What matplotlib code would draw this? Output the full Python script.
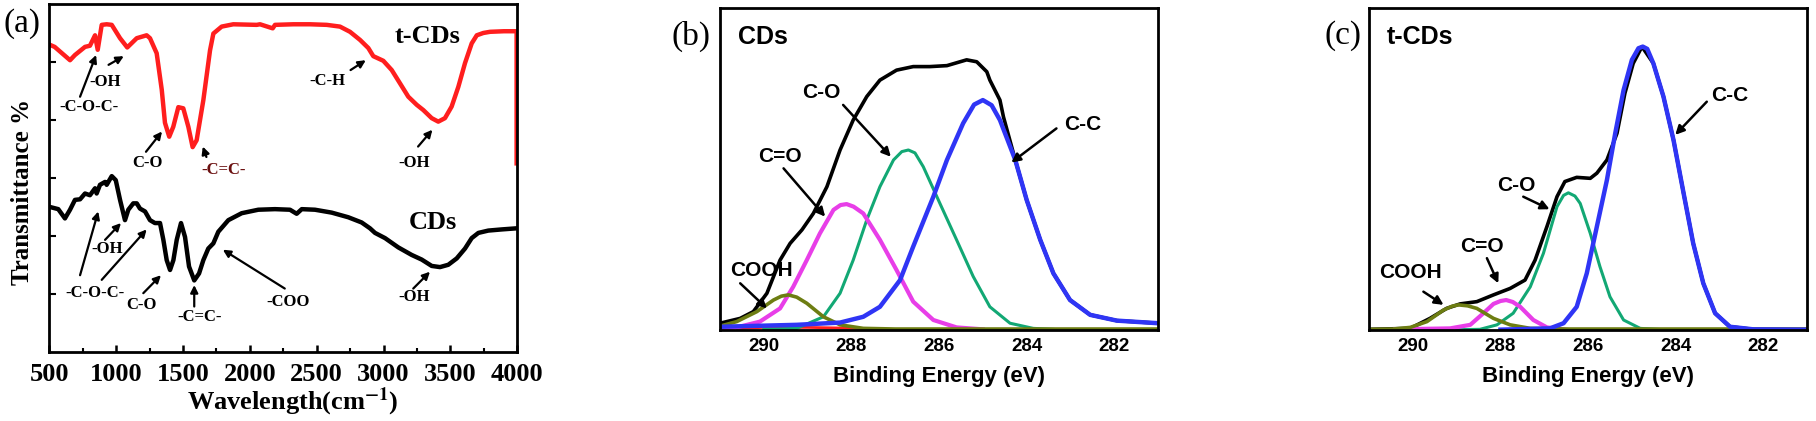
import matplotlib
matplotlib.use('Agg')
import matplotlib.pyplot as plt
from matplotlib.ticker import MultipleLocator

plt.rcParams['mathtext.fontset'] = 'stix'

SERIF = 'Liberation Serif'
SANS = 'Liberation Sans'

# ---- (a) FTIR spectra ----
wn_t = [500, 540, 655, 692, 767, 804, 842, 862, 892, 929, 967, 1029, 1083, 1154, 1228, 1253,
        1303, 1341, 1365, 1397, 1427, 1465, 1502, 1540, 1572, 1602, 1652, 1702, 1727, 1789,
        1876, 2051, 2076, 2171, 2188, 2325, 2450, 2575, 2674, 2749, 2824, 2886, 2923, 2998,
        3061, 3123, 3185, 3248, 3297, 3360, 3409, 3459, 3509, 3559, 3609, 3659, 3697, 3746,
        3796, 3900, 3995, 3995]
tr_t = [5.30, 5.26, 5.03, 5.12, 5.26, 5.28, 5.46, 5.21, 5.64, 5.65, 5.64, 5.41, 5.25, 5.41, 5.46, 5.41,
        5.15, 4.52, 3.95, 3.71, 3.88, 4.22, 4.20, 3.88, 3.53, 3.65, 4.34, 5.20, 5.49, 5.61,
        5.65, 5.64, 5.65, 5.58, 5.64, 5.65, 5.65, 5.64, 5.61, 5.52, 5.38, 5.24, 5.10, 5.02,
        4.86, 4.63, 4.40, 4.26, 4.17, 4.03, 3.97, 4.03, 4.23, 4.57, 4.98, 5.32, 5.46, 5.50,
        5.52, 5.53, 5.53, 3.25]

wn_c = [500, 567, 617, 655, 692, 730, 767, 804, 842, 854, 879, 917, 929, 967, 997, 1029, 1066,
        1091, 1128, 1154, 1178, 1216, 1253, 1290, 1328, 1353, 1378, 1403, 1428, 1453, 1485,
        1515, 1545, 1584, 1620, 1652, 1689, 1727, 1764, 1839, 1939, 2063, 2188, 2300, 2350,
        2388, 2487, 2612, 2736, 2836, 2898, 2936, 3011, 3110, 3210, 3285, 3360, 3422, 3484,
        3547, 3609, 3659, 3709, 3783, 3883, 4000]
tr_c = [2.50, 2.46, 2.30, 2.45, 2.62, 2.63, 2.73, 2.70, 2.82, 2.73, 2.88, 2.93, 2.88, 3.03, 2.96, 2.62, 2.27,
        2.45, 2.56, 2.56, 2.47, 2.42, 2.27, 2.22, 2.22, 1.93, 1.58, 1.41, 1.58, 1.93, 2.22,
        1.98, 1.47, 1.23, 1.35, 1.58, 1.78, 1.87, 2.07, 2.27, 2.39, 2.45, 2.46, 2.45, 2.38,
        2.46, 2.45, 2.40, 2.32, 2.23, 2.13, 2.05, 1.96, 1.80, 1.67, 1.59, 1.48, 1.46, 1.50,
        1.61, 1.78, 1.96, 2.05, 2.09, 2.11, 2.13]

# (label, text pos, [(tail, head), ...], colour)
notes_a = [
    ('-C-O-C-', (797, 4.22), [((730, 4.40), (850, 5.12))], 'k'),
    ('-OH', (917, 4.66), [((943, 4.95), (1057, 5.10))], 'k'),
    ('C-O', (1236, 3.26), [((1223, 3.45), (1343, 3.80))], 'k'),
    ('-C=C-', (1807, 3.14), [((1675, 3.36), (1648, 3.54))], '#6b1010'),
    ('-C-H', (2580, 4.67), [((2753, 4.86), (2867, 5.03))], 'k'),
    ('-OH', (3232, 3.25), [((3258, 3.54), (3365, 3.83))], 'k'),
    ('-C-O-C-', (845, 1.02), [((730, 1.32), (866, 2.42)), ((892, 1.24), (1228, 2.11))], 'k'),
    ('-OH', (929, 1.77), [((917, 1.93), (1036, 2.22))], 'k'),
    ('C-O', (1191, 0.81), [((1203, 1.01), (1335, 1.32))], 'k'),
    ('-C=C-', (1627, 0.60), [((1584, 0.78), (1584, 1.15))], 'k'),
    ('-COO', (2288, 0.86), [((2261, 1.09), (1798, 1.76))], 'k'),
    ('-OH', (3230, 0.95), [((3222, 1.09), (3347, 1.38))], 'k'),
]

# ---- (b) XPS C1s, CDs ----
be_b_env = [291.0, 290.54, 290.24, 289.93, 289.63, 289.40, 289.13, 288.87, 288.56, 288.26, 287.96,
            287.65, 287.35, 286.97, 286.59, 286.21, 285.82, 285.37, 285.14, 284.91, 284.84, 284.61,
            284.53, 284.26, 284.0, 283.69, 283.39, 283.01, 282.55, 281.94, 281.0]
int_b_env = [2.1, 3.6, 5.7, 11.4, 21.7, 26.9, 31.1, 36.2, 44.5, 55.9, 65.2,
             72.5, 77.6, 80.7, 81.8, 81.8, 82.1, 83.9, 83.3, 80.2, 77.6, 71.4,
             66.2, 52.8, 40.4, 28.0, 17.6, 9.3, 4.7, 2.9, 2.1]
be_b_cc = [291.0, 289.25, 288.26, 287.73, 287.35, 286.89, 286.59, 286.13, 285.82, 285.45, 285.2,
           285.0, 284.8, 284.61, 284.26, 284.0, 283.69, 283.39, 283.01, 282.55, 281.94, 281.0]
int_b_cc = [1.0, 1.6, 2.3, 4.1, 7.2, 15.5, 25.9, 41.4, 52.8, 64.2, 70.0,
            71.4, 69.8, 65.2, 52.8, 40.4, 28.0, 17.6, 9.3, 4.7, 2.9, 2.1]
be_b_co = [290.0, 289.25, 288.64, 288.26, 287.96, 287.65, 287.35, 287.04, 286.85, 286.70, 286.55,
           286.36, 285.98, 285.60, 285.22, 284.84, 284.38, 283.85, 283.4]
int_b_co = [0.2, 0.5, 4.1, 11.4, 21.7, 34.2, 44.5, 52.8, 55.4, 55.9, 55.0,
            50.7, 39.3, 28.0, 16.6, 7.2, 2.1, 0.5, 0.2]
be_b_cdo = [291.0, 290.62, 290.09, 289.63, 289.33, 289.02, 288.72, 288.41, 288.25, 288.11, 287.95,
            287.73, 287.35, 286.97, 286.59, 286.13, 285.60, 285.0]
int_b_cdo = [0.4, 0.8, 2.6, 6.7, 13.4, 21.7, 30.0, 37.3, 38.8, 39.1, 38.3,
             36.2, 28.0, 18.6, 8.8, 3.1, 0.8, 0.2]
be_b_cooh = [291.0, 290.62, 290.16, 289.78, 289.60, 289.44, 289.25, 289.02, 288.64, 288.26, 287.73,
             287.0, 281.0]
int_b_cooh = [1.2, 2.6, 5.7, 9.3, 10.5, 10.9, 10.2, 8.3, 4.1, 1.6, 0.5, 0.3, 0.3]
be_b_bg = [290.6, 290.0, 289.0, 288.2, 287.6]
int_b_bg = [0.5, 0.8, 0.8, 0.6, 0.4]

notes_b = [
    ('C-O', (288.68, 73.7), (288.19, 69.9), (287.10, 53.8)),
    ('C=O', (289.63, 53.8), (289.55, 50.2), (288.60, 35.2)),
    ('COOH', (290.05, 18.6), (290.54, 14.5), (289.93, 6.7)),
    ('C-C', (282.71, 63.7), (283.32, 62.6), (284.35, 52.0)),
]

# ---- (c) XPS C1s, t-CDs ----
be_c_env = [291.0, 290.06, 289.61, 289.23, 288.92, 288.54, 288.16, 287.78, 287.44, 287.21, 286.94,
            286.71, 286.53, 286.26, 285.95, 285.80, 285.57, 285.34, 285.16, 284.97, 284.77, 284.51,
            284.28, 284.05, 283.82, 283.60, 283.37, 283.10, 282.76, 282.23, 281.0]
int_c_env = [0.2, 0.5, 3.6, 6.7, 8.1, 8.8, 10.9, 12.9, 15.5, 21.7, 32.1,
             41.4, 46.1, 47.4, 47.1, 48.7, 52.8, 61.1, 73.5, 82.8, 88.0, 82.8,
             72.5, 59.0, 42.5, 26.9, 14.5, 5.2, 1.0, 0.2, 0.1]
be_c_cc = [288.0, 286.87, 286.56, 286.26, 286.03, 285.80, 285.57, 285.38, 285.19, 285.0, 284.85,
           284.75, 284.65, 284.51, 284.28, 284.05, 283.82, 283.60, 283.37, 283.10, 282.76, 282.23, 281.0]
int_c_cc = [0.1, 0.5, 2.1, 7.2, 17.6, 32.1, 46.6, 61.1, 74.5, 83.9, 87.5,
            88.0, 87.3, 82.8, 72.5, 59.0, 42.5, 26.9, 14.5, 5.2, 1.0, 0.2, 0.1]
be_c_co = [289.0, 288.47, 288.08, 287.71, 287.32, 287.02, 286.71, 286.56, 286.45, 286.30, 286.18,
           285.95, 285.73, 285.50, 285.19, 284.81, 284.3]
int_c_co = [0.1, 0.2, 1.6, 5.2, 13.4, 23.8, 38.3, 41.8, 42.6, 41.6, 39.3,
            30.0, 19.7, 10.3, 3.1, 0.5, 0.1]
be_c_cdo = [290.4, 289.15, 288.69, 288.39, 288.16, 288.0, 287.87, 287.72, 287.55, 287.25, 286.94, 286.5]
int_c_cdo = [0.2, 0.5, 1.6, 5.2, 8.1, 9.0, 9.3, 8.7, 7.2, 3.1, 0.8, 0.1]
be_c_cooh = [291.0, 290.45, 290.06, 289.68, 289.30, 289.10, 288.96, 288.75, 288.54, 288.16, 287.78,
             287.32, 286.5, 281.0]
int_c_cooh = [0.2, 0.3, 0.8, 2.6, 6.2, 7.4, 7.8, 7.5, 6.7, 3.6, 1.6, 0.5, 0.3, 0.3]

notes_c = [
    ('COOH', (290.06, 17.8), (289.76, 11.9), (289.30, 7.8)),
    ('C=O', (288.43, 25.9), (288.31, 22.3), (288.05, 14.5)),
    ('C-O', (287.63, 45.0), (287.48, 41.4), (286.88, 37.5)),
    ('C-C', (282.77, 72.7), (283.29, 70.9), (284.01, 60.6)),
]

BLUE = '#2f35f5'
GREEN = '#12a874'
MAGENTA = '#e83ee8'
OLIVE = '#6d7d12'

fig = plt.figure(figsize=(18.16, 4.21), dpi=100)

# ---------------- panel (a)
ax = fig.add_axes([0.02715, 0.1646, 0.2577, 0.8259])
ax.plot(wn_t, tr_t, color='#ff1e1e', lw=3.2, solid_joinstyle='round')
ax.plot(wn_c, tr_c, color='k', lw=3.2, solid_joinstyle='round')
ax.set_xlim(500, 4000)
ax.set_ylim(0, 6)
ax.xaxis.set_major_locator(MultipleLocator(500))
ax.xaxis.set_minor_locator(MultipleLocator(250))
ax.set_yticks([1, 2, 3, 4, 5])
ax.set_yticklabels([])
ax.tick_params(axis='both', which='both', direction='in', top=False, right=False)
ax.tick_params(axis='x', which='major', length=5, width=1.8, pad=8)
ax.tick_params(axis='x', which='minor', length=3, width=1.5)
ax.tick_params(axis='y', which='major', length=5, width=1.5)
for lab in ax.get_xticklabels():
    lab.set_fontfamily(SERIF)
    lab.set_fontweight('bold')
    lab.set_fontsize(19)
for sp in ax.spines.values():
    sp.set_linewidth(2)
ax.set_xlabel(r'Wavelength(cm$^{\mathbf{-1}}$)', fontfamily=SERIF, fontweight='bold',
              fontsize=19)
ax.xaxis.set_label_coords(0.52, -0.098)
ax.set_ylabel('Transmittance %', fontfamily=SERIF, fontweight='bold', fontsize=18)
ax.yaxis.set_label_coords(-0.033, 0.46)

for txt, pos, arrows, col in notes_a:
    ax.text(pos[0], pos[1], txt, ha='center', va='center', fontfamily=SERIF,
            fontweight='bold', fontsize=12, color=col)
    for tail, head in arrows:
        ax.annotate('', xy=head, xytext=tail,
                    arrowprops=dict(arrowstyle='-|>', color='k', lw=1.6, mutation_scale=11,
                                    shrinkA=0, shrinkB=0))
ax.text(3327, 5.44, 't-CDs', ha='center', va='center', fontfamily=SERIF,
        fontweight='bold', fontsize=19)
ax.text(3365, 2.23, 'CDs', ha='center', va='center', fontfamily=SERIF,
        fontweight='bold', fontsize=19)
fig.text(22 / 1816, 1 - 24 / 421, '(a)', ha='center', va='center', fontfamily=SERIF, fontsize=24)


def xps_panel(rect, curves, notes, title, letter, letter_x):
    axp = fig.add_axes(rect)
    for be, inten, col, lw in curves:
        axp.plot(be, inten, color=col, lw=lw, solid_joinstyle='round')
    axp.set_xlim(291, 281)
    axp.set_ylim(0, 100)
    axp.set_xticks([290, 288, 286, 284, 282])
    axp.set_yticks([])
    axp.tick_params(axis='x', length=0, pad=6)
    for lab in axp.get_xticklabels():
        lab.set_fontfamily(SANS)
        lab.set_fontweight('bold')
        lab.set_fontsize(13.5)
    for sp in axp.spines.values():
        sp.set_linewidth(2)
    axp.set_xlabel('Binding Energy (eV)', fontfamily=SANS, fontweight='bold',
                   fontsize=16, labelpad=8)
    axp.text(0.04, 0.91, title, transform=axp.transAxes, ha='left', va='center',
             fontfamily=SANS, fontweight='bold', fontsize=18)
    for txt, pos, tail, head in notes:
        axp.text(pos[0], pos[1], txt, ha='center', va='center', fontfamily=SANS,
                 fontweight='bold', fontsize=15)
        axp.annotate('', xy=head, xytext=tail,
                     arrowprops=dict(arrowstyle='-|>', color='k', lw=1.8, mutation_scale=13,
                                     shrinkA=0, shrinkB=0))
    fig.text(letter_x / 1816, 1 - 36 / 421, letter, ha='center', va='center',
             fontfamily=SERIF, fontsize=24)
    return axp


xps_panel([0.3965, 0.2162, 0.2412, 0.7648],
          [(be_b_env, int_b_env, 'k', 2.6),
           (be_b_bg, int_b_bg, '#ff2020', 2.0),
           (be_b_co, int_b_co, GREEN, 2.2),
           (be_b_cdo, int_b_cdo, MAGENTA, 3.0),
           (be_b_cooh, int_b_cooh, OLIVE, 2.6),
           (be_b_cc, int_b_cc, BLUE, 3.2)],
          notes_b, 'CDs', '(b)', 691)

xps_panel([0.7539, 0.2162, 0.2412, 0.7648],
          [(be_c_env, int_c_env, 'k', 2.6),
           (be_c_co, int_c_co, GREEN, 2.2),
           (be_c_cdo, int_c_cdo, MAGENTA, 3.0),
           (be_c_cooh, int_c_cooh, OLIVE, 2.6),
           (be_c_cc, int_c_cc, BLUE, 3.2)],
          notes_c, 't-CDs', '(c)', 1343)

fig.savefig('out.png', dpi=100)
